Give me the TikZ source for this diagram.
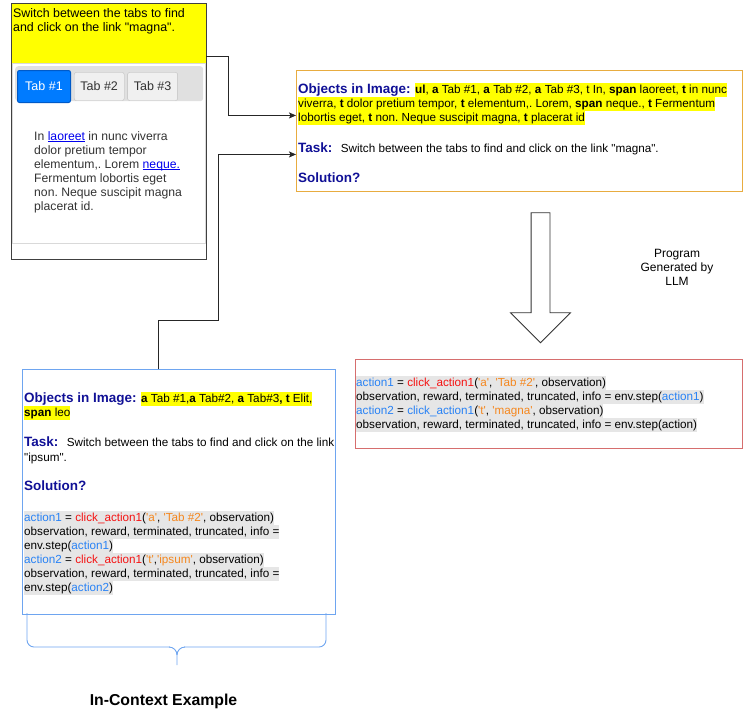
\documentclass[tikz,border=0pt]{standalone}
\usepackage{fontspec}
\setmainfont{Liberation Sans}
\usetikzlibrary{positioning,arrows.meta,shapes.arrows}

\definecolor{hlyellow}{RGB}{255,255,0}
\definecolor{objblue}{RGB}{16,16,150}
\definecolor{codeblue}{RGB}{40,130,245}
\definecolor{codered}{RGB}{245,20,20}
\definecolor{codeorange}{RGB}{245,135,30}
\definecolor{codegray}{RGB}{230,230,230}
\definecolor{linkblue}{RGB}{0,0,238}
\definecolor{tabblue}{RGB}{0,123,255}
\definecolor{tabedge}{RGB}{0,90,200}
\definecolor{orangeedge}{RGB}{232,172,64}
\definecolor{rededge}{RGB}{214,110,110}
\definecolor{blueedge}{RGB}{110,165,240}
\definecolor{textgray}{RGB}{51,51,51}

\newcommand\bodyfont{\fontsize{11.7}{14}\selectfont}
\newcommand\headfont{\fontsize{13.5}{15}\selectfont\bfseries}
\newcommand\uifont{\fontsize{12.2}{14}\selectfont}
\newcommand\cvar[1]{\textcolor{codeblue}{#1}}
\newcommand\cfun[1]{\textcolor{codered}{#1}}
\newcommand\cstr[1]{\textcolor{codeorange}{\textquotesingle#1\textquotesingle}}
\newsavebox\linkbox
\newcommand\weblink[1]{\sbox\linkbox{#1}\textcolor{linkblue}{\rlap{\rule[-1.6pt]{\wd\linkbox}{0.6pt}}#1}}
\newcommand\dq{\textquotedbl}
\frenchspacing

\begin{document}
\begin{tikzpicture}[x=1pt,y=-1pt,
  conn/.style={draw=black!85,line width=0.8pt,-{Stealth[length=7pt,width=6pt,inset=1.5pt]}},
  head/.style={font=\headfont,text=objblue,inner sep=0,anchor=base west},
  body/.style={font=\bodyfont,inner sep=0,anchor=base west},
  hl/.style={body,fill=hlyellow,inner ysep=0.5pt,text height=9.8pt,text depth=3.5pt},
  code/.style={body,fill=codegray,inner ysep=0.5pt,text height=9.8pt,text depth=3.5pt},
  tab/.style={draw=black!25,fill=black!6,rounded corners=2pt,minimum width=50pt,
    minimum height=28pt,font=\fontsize{12.5}{14}\selectfont,text=textgray},
  bracket/.style={draw=blueedge,line width=0.9pt,rounded corners=7pt}]
\useasboundingbox (0,0) rectangle (743,712);

% web page with the task
\node[fill=hlyellow,minimum width=195pt,minimum height=60pt,anchor=north west,inner sep=0] (prompt) at (11,3) {};
\node[anchor=north west,align=left,font=\fontsize{12.4}{14}\selectfont,inner sep=0] (prompttext) at (13,8)
  {Switch between the tabs to find\\and click on the link \dq magna\dq.};
\node[draw=black!15,minimum width=193pt,minimum height=180pt,anchor=north west,inner sep=0] (panel) at (12,63) {};
\node[fill=black!12,rounded corners=3pt,minimum width=188pt,minimum height=35pt,anchor=north west,inner sep=0] (tabbar) at (15,66) {};
\node[tab,draw=tabedge,fill=tabblue,text=white,line width=1pt,minimum width=53pt,minimum height=32pt,anchor=north west] (tab1) at (17,70) {Tab \#1};
\node[tab,right=3pt of tab1] (tab2) {Tab \#2};
\node[tab,right=3pt of tab2] (tab3) {Tab \#3};
\node[anchor=north west,align=left,font=\uifont,text=textgray,inner sep=0] (para) at (34,131)
  {In \weblink{laoreet} in nunc viverra\\dolor pretium tempor\\elementum,. Lorem \weblink{neque.}\\Fermentum lobortis eget\\non. Neque suscipit magna\\placerat id.};
\node[draw=black!75,line width=0.9pt,minimum width=195pt,minimum height=256pt,anchor=north west,inner sep=0] (page) at (11,3) {};

% query to the LLM
\node[draw=orangeedge,line width=0.9pt,minimum width=446pt,minimum height=121pt,anchor=north west,inner sep=0] (query) at (296,70) {};
\node[head] (qobj) at (298,93) {Objects in Image:};
\node[hl,right=4pt of qobj.base east,anchor=base west] (qobj1)
  {\textbf{ul}, \textbf{a} Tab \#1, \textbf{a} Tab \#2, \textbf{a} Tab \#3, t In, \textbf{span} laoreet, \textbf{t} in nunc};
\node[hl] (qobj2) at (298,107)
  {viverra, \textbf{t} dolor pretium tempor, \textbf{t} elementum,. Lorem, \textbf{span} neque., \textbf{t} Fermentum};
\node[hl] (qobj3) at (298,121)
  {lobortis eget, \textbf{t} non. Neque suscipit magna, \textbf{t} placerat id};
\node[head] (qtask) at (298,152) {Task:};
\node[body,right=8pt of qtask.base east,anchor=base west] (qtasktext)
  {Switch between the tabs to find and click on the link \dq magna\dq.};
\node[head] (qsol) at (298,182) {Solution?};

% generation step
\node[single arrow,draw=black!80,fill=white,line width=0.8pt,rotate=270,minimum height=130pt,
  minimum width=59pt,single arrow head extend=20.5pt,inner xsep=0,inner ysep=9pt] (gen) at (540.5,273) {};
\node[align=center,font=\fontsize{12}{14}\selectfont] (genlabel) at (677,267) {Program\\Generated by\\LLM};

% generated program
\node[draw=rededge,line width=0.9pt,minimum width=387pt,minimum height=89pt,anchor=north west,inner sep=0] (answer) at (355,359) {};
\node[code] (a1) at (356,386) {\cvar{action1} = \cfun{click\_action1}(\cstr{a}, \cstr{Tab \#2}, observation)};
\node[code] (a2) at (356,400) {observation, reward, terminated, truncated, info = env.step(\cvar{action1})};
\node[code] (a3) at (356,414) {\cvar{action2} = \cvar{click\_action1}(\cstr{t}, \cstr{magna}, observation)};
\node[code] (a4) at (356,428) {observation, reward, terminated, truncated, info = env.step(action)};

% in-context example
\node[draw=blueedge,line width=0.9pt,minimum width=313pt,minimum height=245pt,anchor=north west,inner sep=0] (context) at (22,369) {};
\node[head] (cobj) at (24,402) {Objects in Image:};
\node[hl,right=4pt of cobj.base east,anchor=base west] (cobj1)
  {\textbf{a} Tab \#1,\textbf{a} Tab\#2, \textbf{a} Tab\#3\textbf{, t} Elit,};
\node[hl] (cobj2) at (24,416) {\textbf{span} leo};
\node[head] (ctask) at (24,446) {Task:};
\node[body,right=8pt of ctask.base east,anchor=base west] (ctasktext)
  {Switch between the tabs to find and click on the link};
\node[body] (ctasktext2) at (24,461) {\dq ipsum\dq.};
\node[head] (csol) at (24,490) {Solution?};
\node[code] (c1) at (24,521) {\cvar{action1} = \cfun{click\_action1}(\cstr{a}, \cstr{Tab \#2}, observation)};
\node[code] (c2) at (24,535) {observation, reward, terminated, truncated, info =};
\node[code] (c3) at (24,549) {env.step(\cvar{action1})};
\node[code] (c4) at (24,563) {\cvar{action2} = \cfun{click\_action1}(\cstr{t},\cstr{ipsum}, observation)};
\node[code] (c5) at (24,577) {observation, reward, terminated, truncated, info =};
\node[code] (c6) at (24,591) {env.step(\cvar{action2})};

% brace under the example
\draw[bracket] (27,613) |- (170,647);
\draw[bracket] (326,613) |- (184,647);
\draw[draw=blueedge,line width=0.9pt] (169,647) to[out=0,in=90] (177,655) -- (177,665);
\draw[draw=blueedge,line width=0.9pt] (185,647) to[out=180,in=90] (177,655);
\node[font=\fontsize{15.8}{18}\selectfont\bfseries] (caption) at (163.5,701) {In-Context Example};

% connectors
\draw[conn] ([yshift=7pt]prompt.south east) -- ++(22,0) |- ([yshift=15.5pt]query.west);
\draw[conn] ([xshift=-20.5pt]context.north) -- ++(0,-49) -- ++(60,0) |- ([yshift=-23.5pt]query.west);
\end{tikzpicture}
\end{document}
